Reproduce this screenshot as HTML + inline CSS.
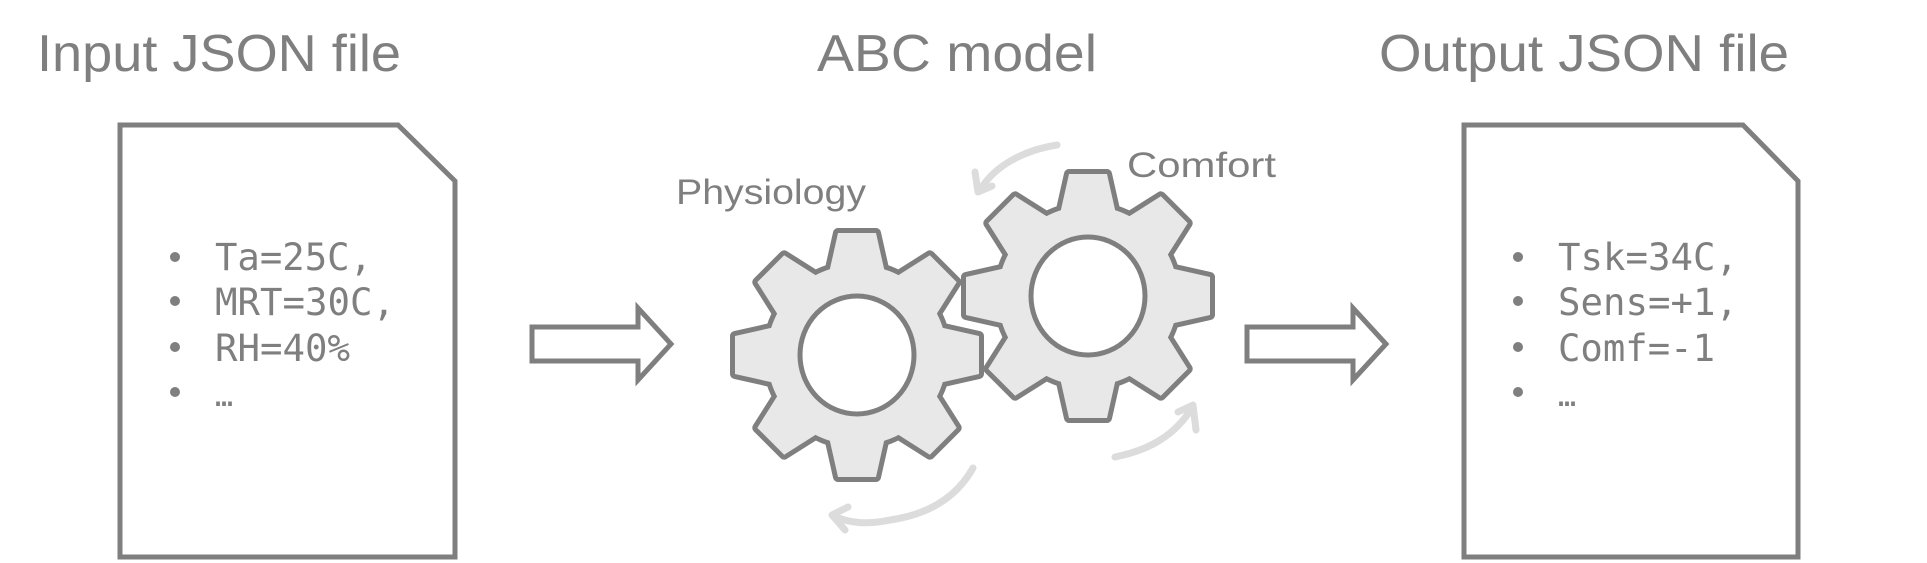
<!DOCTYPE html>
<html><head><meta charset="utf-8"><style>
html,body{margin:0;padding:0;background:#fff;}
svg{display:block;}
text{fill:#7f7f7f;}
</style></head><body>
<svg width="1927" height="563" viewBox="0 0 1927 563" xmlns="http://www.w3.org/2000/svg">
<defs>
<g id="teeth">
  <polygon points="-28,-82 -19,-122 19,-122 28,-82"/>
  <polygon points="-28,-82 -19,-122 19,-122 28,-82" transform="rotate(45)"/>
  <polygon points="-28,-82 -19,-122 19,-122 28,-82" transform="rotate(90)"/>
  <polygon points="-28,-82 -19,-122 19,-122 28,-82" transform="rotate(135)"/>
  <polygon points="-28,-82 -19,-122 19,-122 28,-82" transform="rotate(180)"/>
  <polygon points="-28,-82 -19,-122 19,-122 28,-82" transform="rotate(225)"/>
  <polygon points="-28,-82 -19,-122 19,-122 28,-82" transform="rotate(270)"/>
  <polygon points="-28,-82 -19,-122 19,-122 28,-82" transform="rotate(315)"/>
  <circle r="90"/>
</g>
<g id="gear">
  <use href="#teeth" fill="#7f7f7f" stroke="#7f7f7f" stroke-width="10" stroke-linejoin="round"/>
  <use href="#teeth" fill="#e8e8e8" stroke="none"/>
  <ellipse rx="57" ry="59" fill="#fff" stroke="#7f7f7f" stroke-width="5"/>
</g>
</defs>

<g font-family="Liberation Sans, sans-serif" font-size="52">
<text x="37" y="71" textLength="364" lengthAdjust="spacingAndGlyphs">Input JSON file</text>
<text x="817" y="71" textLength="280" lengthAdjust="spacingAndGlyphs">ABC model</text>
<text x="1379" y="71" textLength="410" lengthAdjust="spacingAndGlyphs">Output JSON file</text>
</g>

<polygon points="120,125 398,125 455,181 455,557 120,557" fill="#fff" stroke="#7f7f7f" stroke-width="5"/>
<polygon points="1464,125 1743,125 1798,181 1798,557 1464,557" fill="#fff" stroke="#7f7f7f" stroke-width="5"/>

<g font-family="DejaVu Sans Mono, Liberation Mono, monospace" font-size="37">
<g fill="#7f7f7f">
<circle cx="175" cy="257" r="5"/><circle cx="175" cy="301" r="5"/><circle cx="175" cy="347" r="5"/><circle cx="175" cy="392" r="5"/>
<circle cx="1518" cy="257" r="5"/><circle cx="1518" cy="301" r="5"/><circle cx="1518" cy="347" r="5"/><circle cx="1518" cy="392" r="5"/>
</g>
<text x="215" y="270" textLength="157" lengthAdjust="spacingAndGlyphs">Ta=25C,</text>
<text x="215" y="315" textLength="180" lengthAdjust="spacingAndGlyphs">MRT=30C,</text>
<text x="215" y="361" textLength="135" lengthAdjust="spacingAndGlyphs">RH=40%</text>
<text x="215" y="406" font-size="30">…</text>
<text x="1558" y="270" textLength="180" lengthAdjust="spacingAndGlyphs">Tsk=34C,</text>
<text x="1558" y="315" textLength="180" lengthAdjust="spacingAndGlyphs">Sens=+1,</text>
<text x="1558" y="361" textLength="157" lengthAdjust="spacingAndGlyphs">Comf=-1</text>
<text x="1558" y="406" font-size="30">…</text>
</g>

<polygon points="532,327 638,327 638,308 671,344 638,380 638,361 532,361" fill="#fff" stroke="#7f7f7f" stroke-width="5"/>
<polygon points="1247,327 1353,327 1353,308 1386,344 1353,380 1353,361 1247,361" fill="#fff" stroke="#7f7f7f" stroke-width="5"/>

<use href="#gear" transform="translate(857,355)"/>
<use href="#gear" transform="translate(1088,296)"/>

<g font-family="Liberation Sans, sans-serif" font-size="35">
<text x="676" y="204" textLength="190" lengthAdjust="spacingAndGlyphs">Physiology</text>
<text x="1127" y="177" textLength="149" lengthAdjust="spacingAndGlyphs">Comfort</text>
</g>

<g fill="none" stroke="#dcdcdc" stroke-width="7" stroke-linecap="round" stroke-linejoin="round">
<path d="M1057,145 C1025,150 995,165 980,190"/>
<path d="M975,172 L978,192 L992,186"/>
<path d="M1115,457 C1150,450 1175,435 1192,408"/>
<path d="M1178,412 L1193,405 L1196,430"/>
<path d="M973,468 C955,500 925,515 890,520 C865,525 850,523 833,516"/>
<path d="M848,507 L832,515 L845,530"/>
</g>
</svg>
</body></html>
